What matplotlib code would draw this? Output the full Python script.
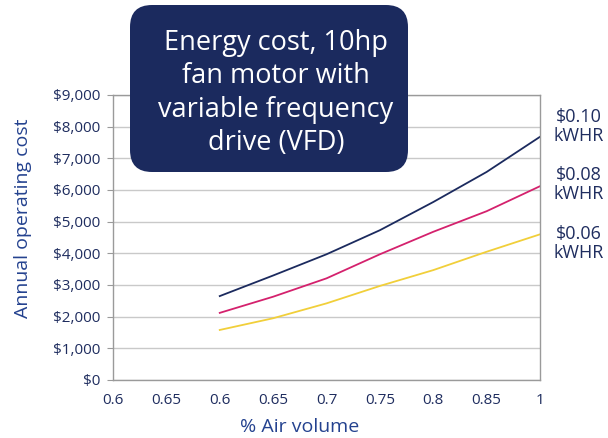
import matplotlib.pyplot as plt
from matplotlib.patches import FancyBboxPatch
from matplotlib.ticker import FuncFormatter

plt.rcParams['font.family'] = ['Open Sans', 'DejaVu Sans']

# x categories as printed on the original axis
x_labels = ['0.6', '0.65', '0.6', '0.65', '0.7', '0.75', '0.8', '0.85', '1']
# series start at the third category
start = 2
cost_010 = [2650, 3300, 3970, 4730, 5620, 6570, 7680]
cost_008 = [2120, 2630, 3210, 3970, 4680, 5330, 6120]
cost_006 = [1580, 1950, 2420, 2970, 3470, 4050, 4600]
rate_labels = ['$0.10\nkWHR', '$0.08\nkWHR', '$0.06\nkWHR']
rate_label_y = [8000, 6180, 4320]

navy = '#1b2a5e'
magenta = '#d4216d'
yellow = '#f1cf3a'
text_col = '#1f2d5f'
label_col = '#24428f'

fig = plt.figure(figsize=(6.08, 4.38), dpi=100)
ax = fig.add_axes([113 / 608, 58 / 438, 427 / 608, 285 / 438])

xs = list(range(start, len(x_labels)))
ax.plot(xs, cost_010, color=navy, lw=1.3)
ax.plot(xs, cost_008, color=magenta, lw=1.3)
ax.plot(xs, cost_006, color=yellow, lw=1.3)

ax.set_xlim(0, len(x_labels) - 1)
ax.set_ylim(0, 9000)
ax.set_xticks(range(len(x_labels)))
ax.set_xticklabels(x_labels)
ax.set_yticks(range(0, 9001, 1000))
ax.yaxis.set_major_formatter(FuncFormatter(lambda v, p: '${:,.0f}'.format(v)))

ax.grid(axis='y', color='#c9c9c9', lw=1)
ax.set_axisbelow(True)
for s in ax.spines.values():
    s.set_color('#9a9a9a')
    s.set_linewidth(1)
ax.tick_params(axis='y', length=4, color='#9a9a9a', labelsize=11, labelcolor=text_col, pad=5)
ax.tick_params(axis='x', length=0, labelsize=11, labelcolor=text_col, pad=9)

for lab, yv in zip(rate_labels, rate_label_y):
    ax.annotate(lab, xy=(len(x_labels) - 1, yv), xytext=(28, 0), textcoords='offset points',
                ha='center', va='center', fontsize=13, color=text_col,
                linespacing=1.05, annotation_clip=False)

fig.text(23 / 608, 0.502, 'Annual operating cost', rotation=90, ha='center', va='center',
         fontsize=14, color=label_col)
fig.text(300 / 608, 11 / 438, '% Air volume', ha='center', va='center',
         fontsize=14, color=label_col)

# title box
box = FancyBboxPatch((1.30, 2.66), 2.78, 1.67, boxstyle='round,pad=0,rounding_size=0.22',
                     transform=fig.dpi_scale_trans, facecolor=navy, edgecolor='none', zorder=5)
fig.add_artist(box)
fig.text(276 / 608, (438 - 93) / 438, 'Energy cost, 10hp\nfan motor with\nvariable frequency\ndrive (VFD)',
         ha='center', va='center', fontsize=19.5, color='white', linespacing=1.26, zorder=6)

fig.savefig('out.png', dpi=100)
